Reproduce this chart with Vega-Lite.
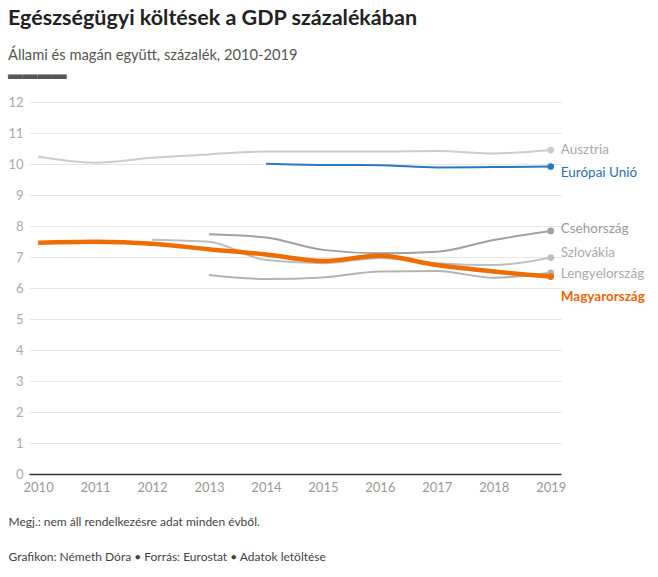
{
  "$schema": "https://vega.github.io/schema/vega-lite/v6.json",
  "width": 532,
  "height": 372,
  "autosize": {"type": "none"},
  "padding": {"left": 29, "top": 102, "right": 97, "bottom": 103},
  "background": "white",
  "title": {
    "text": "Egészségügyi költések a GDP százalékában",
    "subtitle": ["Állami és magán együtt, százalék, 2010-2019", "▬▬▬▬"],
    "anchor": "start",
    "frame": "group",
    "dx": -21,
    "offset": 14,
    "font": "Lato",
    "fontSize": 21.5,
    "fontWeight": "bold",
    "color": "#222222",
    "subtitleFont": "Lato",
    "subtitleFontSize": 14.7,
    "subtitleColor": "#555555",
    "subtitlePadding": 19,
    "subtitleLineHeight": 19
  },
  "config": {"view": {"stroke": null}, "font": "Lato"},
  "data": {
    "values": [
      {"country": "Ausztria", "year": 2010, "value": 10.24},
      {"country": "Ausztria", "year": 2011, "value": 10.04},
      {"country": "Ausztria", "year": 2012, "value": 10.2},
      {"country": "Ausztria", "year": 2013, "value": 10.31},
      {"country": "Ausztria", "year": 2014, "value": 10.4},
      {"country": "Ausztria", "year": 2015, "value": 10.4},
      {"country": "Ausztria", "year": 2016, "value": 10.4},
      {"country": "Ausztria", "year": 2017, "value": 10.42},
      {"country": "Ausztria", "year": 2018, "value": 10.34},
      {"country": "Ausztria", "year": 2019, "value": 10.45},
      {"country": "Európai Unió", "year": 2014, "value": 10.01},
      {"country": "Európai Unió", "year": 2015, "value": 9.97},
      {"country": "Európai Unió", "year": 2016, "value": 9.96},
      {"country": "Európai Unió", "year": 2017, "value": 9.89},
      {"country": "Európai Unió", "year": 2018, "value": 9.9},
      {"country": "Európai Unió", "year": 2019, "value": 9.92},
      {"country": "Csehország", "year": 2013, "value": 7.73},
      {"country": "Csehország", "year": 2014, "value": 7.63},
      {"country": "Csehország", "year": 2015, "value": 7.23},
      {"country": "Csehország", "year": 2016, "value": 7.12},
      {"country": "Csehország", "year": 2017, "value": 7.17},
      {"country": "Csehország", "year": 2018, "value": 7.55},
      {"country": "Csehország", "year": 2019, "value": 7.84},
      {"country": "Szlovákia", "year": 2012, "value": 7.56},
      {"country": "Szlovákia", "year": 2013, "value": 7.49},
      {"country": "Szlovákia", "year": 2014, "value": 6.9},
      {"country": "Szlovákia", "year": 2015, "value": 6.8},
      {"country": "Szlovákia", "year": 2016, "value": 6.97},
      {"country": "Szlovákia", "year": 2017, "value": 6.8},
      {"country": "Szlovákia", "year": 2018, "value": 6.74},
      {"country": "Szlovákia", "year": 2019, "value": 6.98},
      {"country": "Lengyelország", "year": 2013, "value": 6.42},
      {"country": "Lengyelország", "year": 2014, "value": 6.29},
      {"country": "Lengyelország", "year": 2015, "value": 6.34},
      {"country": "Lengyelország", "year": 2016, "value": 6.53},
      {"country": "Lengyelország", "year": 2017, "value": 6.55},
      {"country": "Lengyelország", "year": 2018, "value": 6.33},
      {"country": "Lengyelország", "year": 2019, "value": 6.49},
      {"country": "Magyarország", "year": 2010, "value": 7.46},
      {"country": "Magyarország", "year": 2011, "value": 7.49},
      {"country": "Magyarország", "year": 2012, "value": 7.43},
      {"country": "Magyarország", "year": 2013, "value": 7.25},
      {"country": "Magyarország", "year": 2014, "value": 7.08},
      {"country": "Magyarország", "year": 2015, "value": 6.87},
      {"country": "Magyarország", "year": 2016, "value": 7.04},
      {"country": "Magyarország", "year": 2017, "value": 6.74},
      {"country": "Magyarország", "year": 2018, "value": 6.53},
      {"country": "Magyarország", "year": 2019, "value": 6.37}
    ]
  },
  "encoding": {
    "x": {
      "field": "year",
      "type": "quantitative",
      "scale": {"domain": [2009.84, 2019.18], "nice": false, "zero": false},
      "axis": {
        "values": [2010, 2011, 2012, 2013, 2014, 2015, 2016, 2017, 2018, 2019],
        "format": "d",
        "grid": false,
        "ticks": false,
        "domainColor": "#333333",
        "domainWidth": 1.5,
        "labelColor": "#999999",
        "labelFontSize": 13,
        "labelPadding": 7,
        "labelFlush": false,
        "title": ["Megj.: nem áll rendelkezésre adat minden évből.", "Grafikon: Németh Dóra • Forrás: Eurostat • Adatok letöltése"],
        "titleX": -21,
        "titleY": 42,
        "titleAlign": "left",
        "titleBaseline": "top",
        "titleAnchor": "start",
        "titleFontWeight": "normal",
        "titleFontSize": 12,
        "titleColor": "#444444",
        "titleLineHeight": 35
      }
    },
    "y": {
      "field": "value",
      "type": "quantitative",
      "scale": {"domain": [0, 12], "nice": false},
      "axis": {
        "values": [0, 1, 2, 3, 4, 5, 6, 7, 8, 9, 10, 11, 12],
        "title": null,
        "domain": false,
        "ticks": false,
        "gridColor": "#e6e6e6",
        "labelColor": "#aaaaaa",
        "labelFontSize": 13,
        "labelPadding": 6
      }
    }
  },
  "layer": [
    {
      "transform": [{"filter": "datum.country !== 'Magyarország'"}],
      "mark": {"type": "line", "interpolate": "monotone", "strokeWidth": 2},
      "encoding": {
        "color": {
          "field": "country",
          "type": "nominal",
          "legend": null,
          "scale": {
            "domain": ["Ausztria", "Európai Unió", "Csehország", "Szlovákia", "Lengyelország", "Magyarország"],
            "range": ["#cccccc", "#2a79be", "#a0a0a0", "#bdbdbd", "#b3b3b3", "#ee6c00"]
          }
        }
      }
    },
    {
      "transform": [{"filter": "datum.country === 'Magyarország'"}],
      "mark": {"type": "line", "interpolate": "monotone", "strokeWidth": 4.5, "color": "#ee6c00"},
      "encoding": {}
    },
    {
      "transform": [{"filter": "datum.year === 2019"}],
      "mark": {"type": "point", "filled": true, "size": 45, "opacity": 1},
      "encoding": {
        "color": {"field": "country", "type": "nominal", "legend": null}
      }
    },
    {
      "transform": [{"filter": "datum.year === 2019 && datum.country === 'Ausztria'"}],
      "mark": {"type": "text", "align": "left", "baseline": "middle", "dx": 10, "dy": 0, "fontSize": 13.5, "color": "#aaaaaa"},
      "encoding": {"text": {"field": "country"}}
    },
    {
      "transform": [{"filter": "datum.year === 2019 && datum.country === 'Európai Unió'"}],
      "mark": {"type": "text", "align": "left", "baseline": "middle", "dx": 10, "dy": 7, "fontSize": 13.5, "color": "#2a6fb0"},
      "encoding": {"text": {"field": "country"}}
    },
    {
      "transform": [{"filter": "datum.year === 2019 && datum.country === 'Csehország'"}],
      "mark": {"type": "text", "align": "left", "baseline": "middle", "dx": 10, "dy": -2, "fontSize": 13.5, "color": "#999999"},
      "encoding": {"text": {"field": "country"}}
    },
    {
      "transform": [{"filter": "datum.year === 2019 && datum.country === 'Szlovákia'"}],
      "mark": {"type": "text", "align": "left", "baseline": "middle", "dx": 10, "dy": -5, "fontSize": 13.5, "color": "#aaaaaa"},
      "encoding": {"text": {"field": "country"}}
    },
    {
      "transform": [{"filter": "datum.year === 2019 && datum.country === 'Lengyelország'"}],
      "mark": {"type": "text", "align": "left", "baseline": "middle", "dx": 10, "dy": 1, "fontSize": 13.5, "color": "#aaaaaa"},
      "encoding": {"text": {"field": "country"}}
    },
    {
      "transform": [{"filter": "datum.year === 2019 && datum.country === 'Magyarország'"}],
      "mark": {"type": "text", "align": "left", "baseline": "middle", "dx": 10, "dy": 20, "fontSize": 13.5, "fontWeight": "bold", "color": "#e8650a"},
      "encoding": {"text": {"field": "country"}}
    }
  ]
}
